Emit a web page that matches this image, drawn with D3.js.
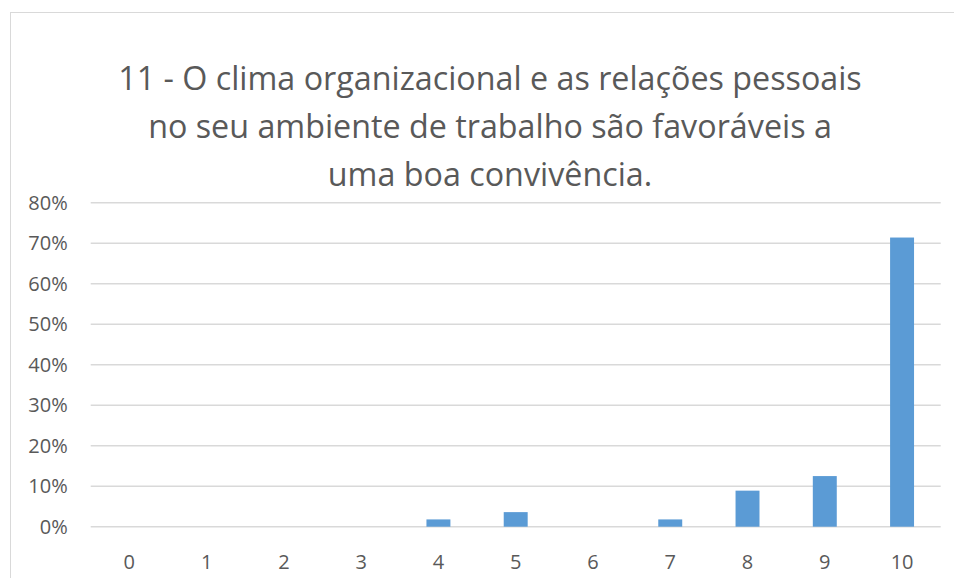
<!DOCTYPE html>
<html>
<head>
  <script src="https://d3js.org/d3.v7.min.js"></script>
  <style>
    body { margin: 0; background: white; }
    svg { display: block; font-family: "Open Sans", "Noto Sans", sans-serif; }
  </style>
</head>
<body>
  <svg width="954" height="578"></svg>
  <script>
  // data
  const categories = ["0", "1", "2", "3", "4", "5", "6", "7", "8", "9", "10"];
  const shares = [0, 0, 0, 0, 0.018, 0.036, 0, 0.018, 0.089, 0.125, 0.714];
  const yTicks = [0, 0.1, 0.2, 0.3, 0.4, 0.5, 0.6, 0.7, 0.8];
  const titleLines = [
    "11 - O clima organizacional e as relações pessoais",
    "no seu ambiente de trabalho são favoráveis a",
    "uma boa convivência."
  ];

  const svg = d3.select("svg");
  const textColor = "#595959";

  // outer chart frame (runs off the right and bottom edge)
  svg.append("rect")
    .attr("x", 10.5).attr("y", 12.5)
    .attr("width", 960).attr("height", 600)
    .attr("fill", "white")
    .attr("stroke", "#d9d9d9");

  const plot = { left: 90.7, right: 940.7, top: 202.7, bottom: 526.7 };

  const x = d3.scaleBand()
    .domain(categories)
    .range([plot.left, plot.right])
    .paddingInner(0.69)
    .paddingOuter(0.345);

  const y = d3.scaleLinear()
    .domain([0, 0.8])
    .range([plot.bottom, plot.top]);

  // title, scaled so the first line has the picture's width
  const title = svg.append("g").attr("fill", textColor);
  const lines = title.selectAll("text")
    .data(titleLines)
    .enter().append("text")
    .attr("x", 490)
    .attr("y", (d, i) => 90 + i * 48)
    .attr("text-anchor", "middle")
    .attr("font-size", 30)
    .text(d => d);
  const w0 = lines.node().getComputedTextLength();
  lines.attr("font-size", 30 * 744 / w0);

  // gridlines
  svg.append("g")
    .selectAll("line")
    .data(yTicks)
    .enter().append("line")
    .attr("x1", plot.left).attr("x2", plot.right)
    .attr("y1", d => y(d)).attr("y2", d => y(d))
    .attr("stroke", "#d9d9d9")
    .attr("stroke-width", 1.5);

  const labelSize = 20;

  // y axis labels
  const yAxis = svg.append("g")
    .attr("transform", `translate(${plot.left},0)`)
    .attr("font-size", labelSize)
    .call(d3.axisLeft(y).tickValues(yTicks).tickFormat(d3.format(".0%")).tickSize(0).tickPadding(23));
  yAxis.select(".domain").remove();
  yAxis.selectAll("text")
    .attr("fill", textColor)
    .style("font-size", labelSize + "px")
    .attr("font-family", "'Open Sans', sans-serif");

  // x axis labels
  const xAxis = svg.append("g")
    .attr("transform", `translate(0,${plot.bottom})`)
    .call(d3.axisBottom(x).tickSize(0).tickPadding(28));
  xAxis.select(".domain").remove();
  xAxis.selectAll("text")
    .attr("fill", textColor)
    .style("font-size", labelSize + "px")
    .attr("font-family", "'Open Sans', sans-serif");

  // bars
  svg.append("g")
    .selectAll("rect")
    .data(shares)
    .enter().append("rect")
    .attr("x", (d, i) => x(categories[i]))
    .attr("width", x.bandwidth())
    .attr("y", d => y(d))
    .attr("height", d => y(0) - y(d))
    .attr("fill", "#5b9bd5");
  </script>
</body>
</html>
